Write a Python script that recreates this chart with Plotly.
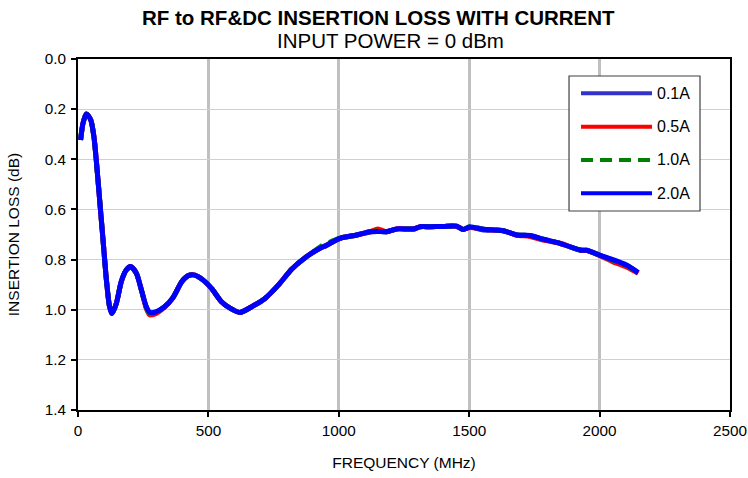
import plotly.graph_objects as go

# ---- data ----
freq_mhz = [10, 19, 32, 49, 61, 70, 83, 96, 109, 121,
            130, 147, 166, 185, 202, 224, 243, 262, 275, 294,
            332, 364, 398, 423, 448, 480, 512, 550, 583, 621,
            666, 717, 768, 820, 877, 928, 950, 967, 1005, 1069,
            1120, 1150, 1183, 1222, 1286, 1312, 1350, 1400, 1452, 1477,
            1503, 1554, 1631, 1682, 1733, 1784, 1848, 1925, 1950, 2000,
            2050, 2103, 2148]

loss_01a = [0.323, 0.257, 0.219, 0.243, 0.310, 0.403, 0.562, 0.722, 0.882, 0.988,
            1.015, 0.975, 0.888, 0.842, 0.828, 0.855, 0.921, 0.990, 1.012, 1.012,
            0.988, 0.952, 0.888, 0.864, 0.862, 0.882, 0.915, 0.968, 0.994, 1.011,
            0.988, 0.955, 0.902, 0.838, 0.788, 0.755, 0.745, 0.735, 0.715, 0.702,
            0.689, 0.688, 0.689, 0.678, 0.678, 0.669, 0.669, 0.668, 0.667, 0.680,
            0.670, 0.682, 0.685, 0.702, 0.704, 0.719, 0.735, 0.762, 0.763, 0.782,
            0.802, 0.824, 0.852]

loss_05a = [0.323, 0.257, 0.219, 0.243, 0.310, 0.403, 0.562, 0.722, 0.882, 0.988,
            1.015, 0.975, 0.888, 0.842, 0.828, 0.855, 0.921, 0.995, 1.020, 1.018,
            0.990, 0.952, 0.888, 0.864, 0.862, 0.882, 0.915, 0.968, 0.994, 1.011,
            0.988, 0.955, 0.902, 0.838, 0.788, 0.755, 0.745, 0.735, 0.715, 0.702,
            0.689, 0.678, 0.689, 0.678, 0.678, 0.669, 0.669, 0.668, 0.667, 0.680,
            0.672, 0.679, 0.685, 0.702, 0.708, 0.722, 0.735, 0.762, 0.763, 0.784,
            0.808, 0.830, 0.855]

loss_10a = [0.323, 0.257, 0.219, 0.243, 0.310, 0.403, 0.562, 0.722, 0.882, 0.988,
            1.015, 0.975, 0.888, 0.842, 0.828, 0.855, 0.921, 0.992, 1.015, 1.014,
            0.988, 0.952, 0.888, 0.864, 0.862, 0.882, 0.915, 0.968, 0.994, 1.011,
            0.988, 0.955, 0.902, 0.838, 0.788, 0.750, 0.735, 0.730, 0.715, 0.702,
            0.689, 0.686, 0.689, 0.678, 0.678, 0.669, 0.669, 0.668, 0.667, 0.680,
            0.668, 0.679, 0.685, 0.702, 0.704, 0.719, 0.735, 0.762, 0.763, 0.782,
            0.802, 0.824, 0.852]

loss_20a = [0.323, 0.257, 0.219, 0.243, 0.310, 0.403, 0.562, 0.722, 0.882, 0.988,
            1.015, 0.975, 0.888, 0.842, 0.828, 0.855, 0.921, 0.988, 1.010, 1.010,
            0.988, 0.952, 0.888, 0.864, 0.862, 0.882, 0.915, 0.968, 0.994, 1.011,
            0.988, 0.955, 0.902, 0.838, 0.788, 0.755, 0.745, 0.735, 0.715, 0.702,
            0.689, 0.688, 0.689, 0.678, 0.678, 0.669, 0.669, 0.668, 0.667, 0.680,
            0.670, 0.679, 0.685, 0.702, 0.704, 0.719, 0.735, 0.762, 0.763, 0.782,
            0.800, 0.822, 0.852]

series_names = ["0.1A", "0.5A", "1.0A", "2.0A"]
series_values = [loss_01a, loss_05a, loss_10a, loss_20a]
series_colors = ["#3333cc", "#ff0000", "#008000", "#0000ff"]
series_dash = ["solid", "solid", "12px,7px", "solid"]

x_ticks = [0, 500, 1000, 1500, 2000, 2500]
y_ticks = [0.0, 0.2, 0.4, 0.6, 0.8, 1.0, 1.2, 1.4]

FONT = "Liberation Sans, Arial, sans-serif"

fig = go.Figure()
for name, vals, col, dash in zip(series_names, series_values, series_colors, series_dash):
    fig.add_trace(go.Scatter(
        x=freq_mhz, y=vals, mode="lines", name=name,
        line=dict(color=col, width=5, dash=dash, shape="spline", smoothing=0.7),
        showlegend=False,
    ))

# ---- manual legend (box, line samples, labels) ----
leg_x0, leg_x1, leg_y0, leg_y1 = 0.7531, 0.954, 0.567, 0.9516
fig.add_shape(type="rect", xref="paper", yref="paper",
              x0=leg_x0, x1=leg_x1, y0=leg_y0, y1=leg_y1,
              line=dict(color="#404040", width=1.2), fillcolor="white", layer="above")
leg_rows = [0.9023, 0.8072, 0.7123, 0.6174]
for name, col, dash, yy in zip(series_names, series_colors, series_dash, leg_rows):
    fig.add_shape(type="line", xref="paper", yref="paper",
                  x0=0.7715, x1=0.8804, y0=yy, y1=yy,
                  line=dict(color=col, width=4, dash=dash), layer="above")
    fig.add_annotation(xref="paper", yref="paper", x=0.8845, y=yy,
                       xanchor="left", yanchor="middle", text=name, showarrow=False,
                       font=dict(family=FONT, size=16, color="black"))

# ---- titles ----
fig.add_annotation(xref="paper", yref="paper", x=0.461, y=1.1182,
                   xanchor="center", yanchor="middle", showarrow=False,
                   text="<b>RF to RF&amp;DC INSERTION LOSS WITH CURRENT</b>",
                   font=dict(family=FONT, size=20.5, color="black"))
fig.add_annotation(xref="paper", yref="paper", x=0.48, y=1.0527,
                   xanchor="center", yanchor="middle", showarrow=False,
                   text="INPUT POWER = 0 dBm",
                   font=dict(family=FONT, size=20.5, color="black"))

fig.update_layout(
    width=748, height=478, autosize=False,
    margin=dict(l=78, r=18, t=59, b=68),
    paper_bgcolor="white", plot_bgcolor="white",
    font=dict(family=FONT, size=15, color="black"),
    xaxis=dict(
        range=[0, 2500], tickvals=x_ticks, tickformat="d",
        tickfont=dict(family=FONT, size=15.3),
        showgrid=True, gridcolor="#c0c0c0", gridwidth=2.5,
        showline=True, linecolor="black", linewidth=2, mirror=True,
        ticks="outside", ticklen=5, tickwidth=1.5, tickcolor="black",
        ticklabelstandoff=1,
        zeroline=False, automargin=False,
        title=dict(text="FREQUENCY (MHz)", font=dict(family=FONT, size=15.5), standoff=19),
    ),
    yaxis=dict(
        range=[1.4, 0], tickvals=y_ticks, tickformat=".1f",
        tickfont=dict(family=FONT, size=15.3),
        showgrid=True, gridcolor="#d0d0d0", gridwidth=1,
        showline=True, linecolor="black", linewidth=2, mirror=True,
        ticks="outside", ticklen=5, tickwidth=1.5, tickcolor="black",
        ticklabelstandoff=2,
        zeroline=False, automargin=False,
        title=dict(text="INSERTION LOSS (dB)", font=dict(family=FONT, size=15.5), standoff=21),
    ),
)

fig.write_html("out.html", config={"responsive": False, "displayModeBar": False},
               post_script="document.body.style.margin='0px';document.body.style.overflow='hidden';")
